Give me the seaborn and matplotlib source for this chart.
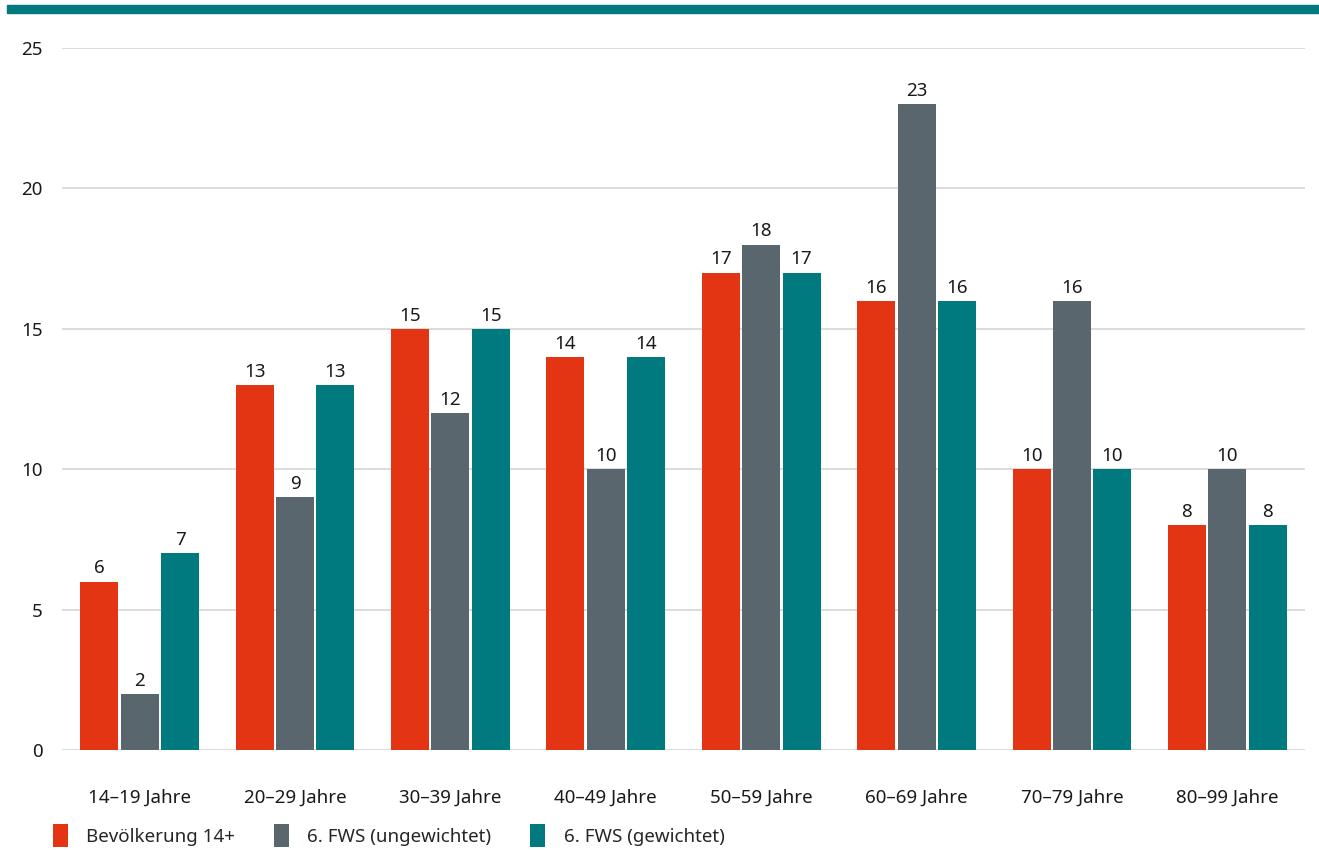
import matplotlib
matplotlib.use("Agg")
import matplotlib.pyplot as plt
import seaborn as sns
import pandas as pd
from matplotlib.patches import Patch, Rectangle

categories = ["14–19 Jahre", "20–29 Jahre", "30–39 Jahre", "40–49 Jahre",
              "50–59 Jahre", "60–69 Jahre", "70–79 Jahre", "80–99 Jahre"]
series_names = ["Bevölkerung 14+", "6. FWS (ungewichtet)", "6. FWS (gewichtet)"]
bevoelkerung = [6, 13, 15, 14, 17, 16, 10, 8]
fws_ungewichtet = [2, 9, 12, 10, 18, 23, 16, 10]
fws_gewichtet = [7, 13, 15, 14, 17, 16, 10, 8]
y_ticks = [0, 5, 10, 15, 20, 25]

colors = ["#E33414", "#59666D", "#007A7E"]

rows = []
for name, vals in zip(series_names, [bevoelkerung, fws_ungewichtet, fws_gewichtet]):
    for c, v in zip(categories, vals):
        rows.append({"Alter": c, "Serie": name, "Wert": v})
df = pd.DataFrame(rows)

sns.set_theme(style="white")
plt.rcParams["font.family"] = ["Noto Sans", "DejaVu Sans"]

fig = plt.figure(figsize=(13.19, 8.5), dpi=100)
ax = fig.add_axes([62 / 1319, 1 - 750 / 850, (1305 - 62) / 1319, (750 - 48) / 850])

sns.barplot(data=df, x="Alter", y="Wert", hue="Serie", order=categories,
            hue_order=series_names, palette=colors, width=0.78, gap=0.06,
            saturation=1, ax=ax, legend=False, linewidth=0, edgecolor="none")

for cont in ax.containers:
    ax.bar_label(cont, padding=3, fontsize=13.5, color="#1a1a1a")

ax.set_ylim(0, 25)
ax.set_xlim(-0.5, 7.5)
ax.set_yticks(y_ticks)
ax.yaxis.grid(True, color="#D5D5D5", linewidth=1.2)
ax.set_axisbelow(True)
for s in ax.spines.values():
    s.set_visible(False)
ax.set_xlabel("")
ax.set_ylabel("")
ax.tick_params(axis="y", labelsize=13.5, pad=14, length=0, labelcolor="#1a1a1a")
ax.tick_params(axis="x", labelsize=13.5, pad=28, length=0, labelcolor="#1a1a1a")

# top teal band
fig.patches.append(Rectangle((7 / 1319, 1 - 13 / 850), 1 - 7 / 1319, 8 / 850,
                             transform=fig.transFigure, color="#007A7E", zorder=0))

handles = [Patch(facecolor=c, edgecolor="none") for c in colors]
fig.legend(handles, series_names, loc="lower left", bbox_to_anchor=(45 / 1319, -0.005),
           ncol=3, frameon=False, fontsize=13.5, handlelength=0.8, handleheight=1.45,
           columnspacing=2.05, handletextpad=1.0, borderaxespad=0.0)

fig.savefig("out.png", dpi=100)
